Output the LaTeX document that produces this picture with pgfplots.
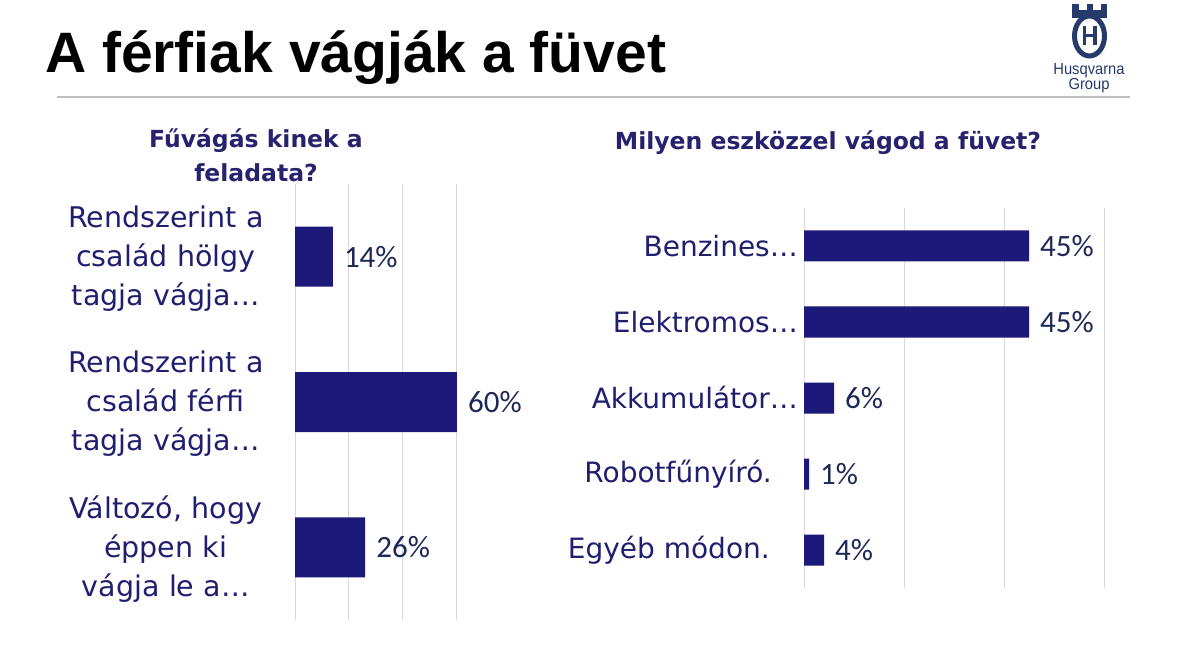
\documentclass[border=0pt]{standalone}
\usepackage{pgfplots}
\pgfplotsset{compat=1.18}
\usepackage{fontspec}
\setmainfont{DejaVu Sans}
\newfontfamily\valfont{Carlito}
\newfontfamily\arial{Liberation Sans}

\definecolor{barcol}{RGB}{28,25,122}
\definecolor{labcol}{RGB}{32,30,110}
\definecolor{valcol}{RGB}{28,40,85}
\definecolor{headcol}{RGB}{38,34,110}
\definecolor{gridcol}{RGB}{217,217,217}
\definecolor{logocol}{RGB}{38,58,107}

\pgfplotsset{
  mybars/.style={
    xbar, scale only axis, anchor=south west,
    xmin=0, xmax=60, xtick={0,20,40,60}, xticklabels={},
    y dir=reverse,
    axis line style={draw=none}, major tick length=0pt,
    xmajorgrids, grid style={gridcol, line width=1pt},
    /pgf/number format/assume math mode=true,
    point meta=x,
    nodes near coords={\pgfmathprintnumber{\pgfplotspointmeta}\%},
    nodes near coords style={font=\valfont\fontsize{31}{31}\selectfont,
      text=valcol, anchor=west, inner sep=0pt, xshift=11pt},
  }
}

\begin{document}
\begin{tikzpicture}[x=1pt,y=1pt]
\path[use as bounding box] (0,0) rectangle (1191,647);

% headline and rule
\node[anchor=base west, inner sep=0pt, font=\arial\bfseries\fontsize{57}{60}\selectfont]
  at (45,647-73) {A férfiak vágják a füvet};
\draw[color=black!25, line width=1.5pt] (57,647-97) -- (1130,647-97);

% logo, roughly
\fill[logocol] (1072,647-18) rectangle (1107,647-10);
\fill[logocol] (1072,647-12) rectangle (1078.5,647-4);
\fill[logocol] (1086.5,647-12) rectangle (1092.5,647-4);
\fill[logocol] (1100.5,647-12) rectangle (1107,647-4);
\draw[logocol, line width=5pt] (1089.5,647-36) ellipse [x radius=15, y radius=20];
\fill[logocol] (1082.5,647-45) rectangle (1086,647-26);
\fill[logocol] (1093,647-45) rectangle (1096.5,647-26);
\fill[logocol] (1082.5,647-37.2) rectangle (1096.5,647-33.8);
\node[anchor=base, inner sep=0pt, xscale=0.92, text=logocol,
  font=\arial\fontsize{16}{16}\selectfont] at (1089,647-75) {Husqvarna};
\node[anchor=base, inner sep=0pt, xscale=0.92, text=logocol,
  font=\arial\fontsize{16}{16}\selectfont] at (1089,647-90) {Group};

% chart headings
\node[anchor=base, inner sep=0pt, text=headcol, font=\bfseries\fontsize{23.5}{23.5}\selectfont]
  at (256,647-148) {Fűvágás kinek a};
\node[anchor=base, inner sep=0pt, text=headcol, font=\bfseries\fontsize{23.5}{23.5}\selectfont]
  at (256,647-182) {feladata?};
\node[anchor=base, inner sep=0pt, text=headcol, font=\bfseries\fontsize{23.5}{23.5}\selectfont]
  at (828,647-150) {Milyen eszközzel vágod a füvet?};

% left chart
\begin{axis}[mybars,
  at={(295pt,27pt)}, width=162pt, height=436pt,
  ymin=-0.5, ymax=2.5, bar width=60pt,
  ytick={0,1,2},
  yticklabels={{Rendszerint a\\család hölgy\\tagja vágja…},
               {Rendszerint a\\család férfi\\tagja vágja…},
               {Változó, hogy\\éppen ki\\vágja le a…}},
  yticklabel style={anchor=east, align=center, text width=200pt, inner sep=0pt,
    xshift=-29pt, yshift=-2pt, text=labcol, font=\fontsize{28.5}{39}\selectfont},
]
\addplot[draw=none, fill=barcol] coordinates {(14,0) (60,1) (26,2)};
\end{axis}

% right chart
\begin{axis}[mybars,
  at={(804pt,59pt)}, width=300pt, height=380pt,
  ymin=-0.5, ymax=4.5, bar width=31pt,
  ytick={0,1,2,3,4},
  yticklabels={Benzines…, Elektromos…, Akkumulátor…,
               Robotfűnyíró.\hspace*{26pt}, Egyéb módon.\hspace*{28pt}},
  yticklabel style={anchor=east, inner sep=0pt, xshift=-6pt,
    text=labcol, font=\fontsize{28}{34}\selectfont},
]
\addplot[draw=none, fill=barcol] coordinates {(45,0) (45,1) (6,2) (1,3) (4,4)};
\end{axis}
\end{tikzpicture}
\end{document}
